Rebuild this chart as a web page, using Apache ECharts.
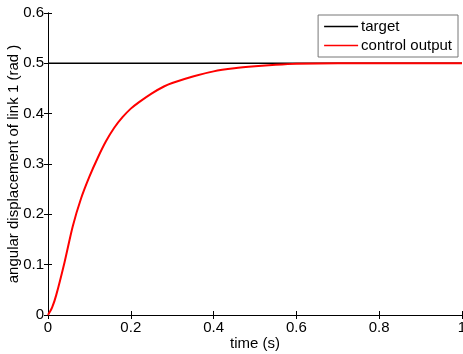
<!DOCTYPE html>
<html>
<head>
<meta charset="utf-8">
<script src="https://cdn.jsdelivr.net/npm/echarts@6/dist/echarts.min.js"></script>
<style>
  html, body { margin: 0; padding: 0; background: #fff; }
  #chart { width: 463px; height: 354px; }
</style>
</head>
<body>
<div id="chart"></div>
<script>
// time (s) and angular displacement
var timeData = [0, 0.01, 0.02, 0.04, 0.06, 0.08, 0.10, 0.12, 0.14, 0.16, 0.18, 0.20, 0.22, 0.25, 0.28, 0.30, 0.35, 0.40, 0.45, 0.50, 0.55, 0.60, 0.70, 0.80, 0.90, 1.0]
var outputData = [0, 0.015, 0.04, 0.105, 0.177, 0.232, 0.275, 0.312, 0.345, 0.372, 0.393, 0.410, 0.423, 0.440, 0.454, 0.461, 0.474, 0.484, 0.490, 0.494, 0.497, 0.499, 0.500, 0.500, 0.500, 0.500]
var targetTime = [0, 1]
var targetData = [0.5, 0.5]
var xTicks = [0, 0.2, 0.4, 0.6, 0.8, 1]
var yTicks = [0, 0.1, 0.2, 0.3, 0.4, 0.5, 0.6]

function pairs(xs, ys) {
  return xs.map(function (x, i) { return [x, ys[i]] })
}

var font = 'Liberation Sans, Arial, sans-serif'
var chart = echarts.init(document.getElementById('chart'))

var axisBase = {
  type: 'value',
  axisLine: { show: true, lineStyle: { color: '#000', width: 1 } },
  axisTick: { show: true, inside: true, length: 4, lineStyle: { color: '#000' } },
  splitLine: { show: false }
}

var option = {
  animation: false,
  backgroundColor: '#fff',
  grid: { left: 48, right: 1, top: 13, bottom: 39, containLabel: false, outerBoundsMode: 'none' },
  legend: {
    orient: 'vertical',
    right: 5,
    top: 15,
    backgroundColor: '#fff',
    borderColor: '#777',
    borderWidth: 1,
    padding: [4, 6, 4, 6],
    itemWidth: 34,
    itemHeight: 8,
    itemGap: 4,
    icon: 'path://M0,0 L34,0 L34,1.6 L0,1.6 Z',
    textStyle: { fontFamily: font, fontSize: 15, color: '#000', padding: [0, 0, 0, -2] },
    data: ['target', 'control output']
  },
  xAxis: [
    Object.assign({}, axisBase, {
      min: 0, max: 1, interval: 0.2,
      name: 'time (s)',
      nameLocation: 'middle',
      nameGap: 21,
      nameMoveOverlap: false,
      nameTextStyle: { fontFamily: font, fontSize: 15, color: '#000' },
      axisLabel: {
        fontFamily: font, fontSize: 15, color: '#000', margin: 5,
        formatter: function (v) { return xTicks.indexOf(+v.toFixed(1)) >= 0 ? String(+v.toFixed(1)) : '' }
      }
    }),
    Object.assign({}, axisBase, {
      position: 'top', min: 0, max: 1, interval: 0.2,
      axisLabel: { show: false }
    })
  ],
  yAxis: [
    Object.assign({}, axisBase, {
      min: 0, max: 0.6, interval: 0.1,
      name: 'angular displacement of link 1 (rad )',
      nameLocation: 'middle',
      nameGap: 27,
      nameMoveOverlap: false,
      nameTextStyle: { fontFamily: font, fontSize: 15, color: '#000' },
      axisLabel: {
        fontFamily: font, fontSize: 15, color: '#000', margin: 4,
        formatter: function (v) { return String(+v.toFixed(1)) }
      }
    }),
    Object.assign({}, axisBase, {
      position: 'right', min: 0, max: 0.6, interval: 0.1,
      axisLabel: { show: false }
    })
  ],
  series: [
    {
      name: 'target',
      type: 'line',
      data: pairs(targetTime, targetData),
      showSymbol: false,
      symbol: 'none',
      color: '#000',
      lineStyle: { color: '#000', width: 1.5 }
    },
    {
      name: 'control output',
      type: 'line',
      data: pairs(timeData, outputData),
      smooth: 0.3,
      showSymbol: false,
      symbol: 'none',
      color: '#ff0000',
      lineStyle: { color: '#ff0000', width: 2 }
    }
  ]
}

chart.setOption(option)
</script>
</body>
</html>
